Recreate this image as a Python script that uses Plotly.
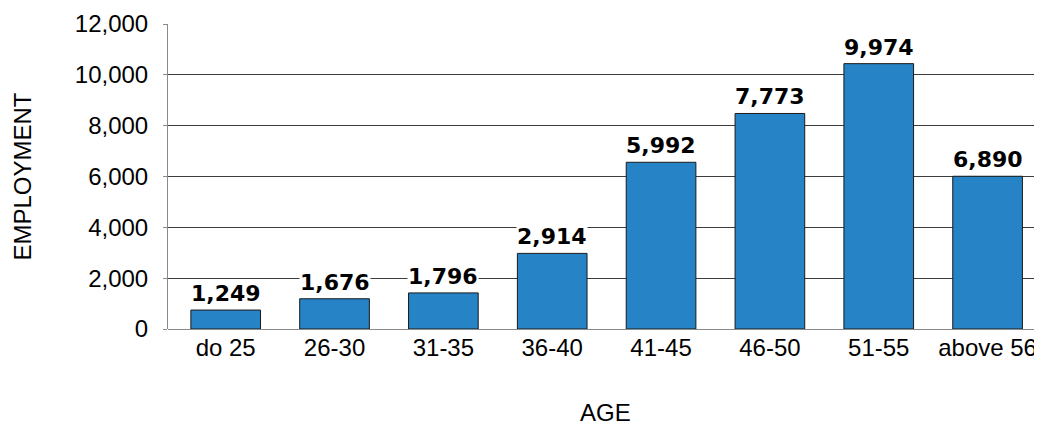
import plotly.graph_objects as go

# Datos
edades = ["do 25", "26-30", "31-35", "36-40", "41-45", "46-50", "51-55", "above 56"]
alturas = [745, 1190, 1420, 2975, 6560, 8480, 10440, 6010]
etiquetas = ["1,249", "1,676", "1,796", "2,914", "5,992", "7,773", "9,974", "6,890"]
ticks_y = [0, 2000, 4000, 6000, 8000, 10000, 12000]

AZUL = "#2683c6"
TINTA = "#1a1a1a"
GRIS = "#8a8a8a"
FUENTE = "Liberation Sans, Arial, sans-serif"

fig = go.Figure(go.Bar(
    x=edades, y=alturas,
    marker=dict(color=AZUL, line=dict(color=TINTA, width=1)),
    width=0.64,
    hoverinfo="skip",
))

for edad, alt, etq in zip(edades, alturas, etiquetas):
    fig.add_annotation(
        x=edad, y=alt, text=etq, showarrow=False,
        yanchor="bottom", yshift=3,
        bgcolor="white", borderpad=0,
        font=dict(family="DejaVu Sans", size=22, color="black", weight="bold"),
    )

# títulos de ejes
fig.add_annotation(
    text="AGE", xref="paper", yref="paper", x=0.5, y=0,
    yanchor="middle", yshift=-83, showarrow=False,
    font=dict(family=FUENTE, size=24, color="black"),
)
fig.add_annotation(
    text="EMPLOYMENT", xref="paper", yref="paper", x=0, y=0.5,
    xanchor="center", xshift=-146, textangle=-90, showarrow=False,
    font=dict(family=FUENTE, size=24, color="black"),
)

# la página añade 8px de margen al body: se compensa aquí
fig.update_layout(
    width=1034, height=420,
    paper_bgcolor="white", plot_bgcolor="white",
    margin=dict(l=160, r=0, t=16, b=99),
    font=dict(family=FUENTE, size=24, color="black"),
    showlegend=False,
    xaxis=dict(
        automargin=False,
        showgrid=False, showline=False, ticks="",
        range=[-0.53, 7.5], ticklabelstandoff=2,
    ),
    yaxis=dict(
        automargin=False,
        range=[0, 12000], tickvals=ticks_y, tickformat=",d",
        showgrid=True, gridcolor="#3c3c3c", gridwidth=1,
        showline=True, linecolor=GRIS, linewidth=1,
        ticks="outside", ticklen=4, tickcolor=GRIS,
        ticklabelstandoff=10,
        zeroline=True, zerolinecolor=GRIS, zerolinewidth=1,
    ),
)

fig.write_html("out.html")
